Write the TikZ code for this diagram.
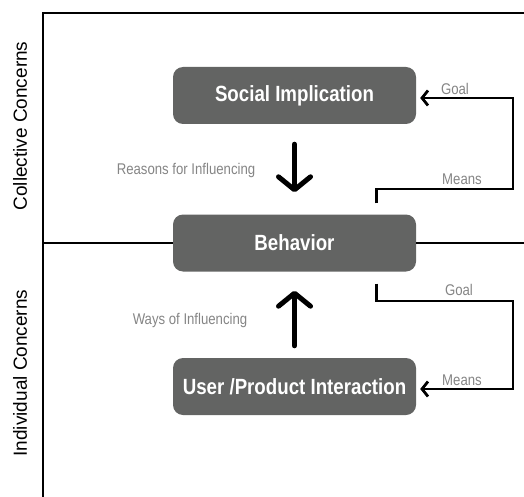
\documentclass[tikz,border=0pt]{standalone}
\usepackage{fontspec}
\setmainfont[FakeStretch=0.85]{Liberation Sans}
\newfontfamily\sidefont{Liberation Sans}
\usetikzlibrary{positioning}
\usetikzlibrary{arrows.meta}
\definecolor{boxgray}{HTML}{636463}
\definecolor{labelgray}{HTML}{858585}

\begin{document}
\begin{tikzpicture}[x=1pt, y=-1pt, box/.style={fill=boxgray, rounded corners=10pt, minimum width=243pt, minimum height=57pt, text=white, font=\fontsize{22}{24}\selectfont\bfseries}, frame/.style={line width=2.8pt}, feedback/.style={line width=2.8pt, -{Straight Barb[length=6pt, width=15pt]}}, influence/.style={line width=5pt, line cap=round, -{Straight Barb[length=13pt, width=32pt, round]}}, note/.style={text=labelgray, font=\fontsize{15.5}{17}\selectfont}, side/.style={rotate=90, font=\sidefont\fontsize{19}{21}\selectfont}]
\useasboundingbox (0,0) rectangle (524,497);
\node[box] (social) at (294.5,95.5) {Social Implication};
\node[box] (behavior) at (294.5,243) {Behavior};
\node[box] (interaction) at (294.5,386.5) {User /Product Interaction};
% frame
\draw[frame] (43,497) -- (43,13) -- (524,13);
\draw[frame] (43,243) -- (behavior.west);
\draw[frame] (behavior.east) -- (524,243);
\node[side] (collective) at (20,126) {Collective Concerns};
\node[side] (individual) at (20,373) {Individual Concerns};
% influencing
\draw[influence] ([yshift=-20pt]social.south) -- ([yshift=22pt]behavior.north);
\draw[influence] ([yshift=12pt]interaction.north) -- ([yshift=-19pt]behavior.south);
\node[note] (reasons) at (186,170) {Reasons for Influencing};
\node[note] (ways) at (190,320) {Ways of Influencing};
% goal and means
\draw[feedback] ([xshift=-40pt,yshift=11pt]behavior.north east) |- (513,189) |- ([xshift=4pt,yshift=-2.5pt]social.east);
\draw[feedback] ([xshift=-40pt,yshift=-12pt]behavior.south east) |- (513,301) |- ([xshift=4pt,yshift=-2.5pt]interaction.east);
\node[note] (goal1) at (455,89) {Goal};
\node[note] (means1) at (462,179) {Means};
\node[note] (goal2) at (459,290) {Goal};
\node[note] (means2) at (462,380) {Means};
\end{tikzpicture}
\end{document}
